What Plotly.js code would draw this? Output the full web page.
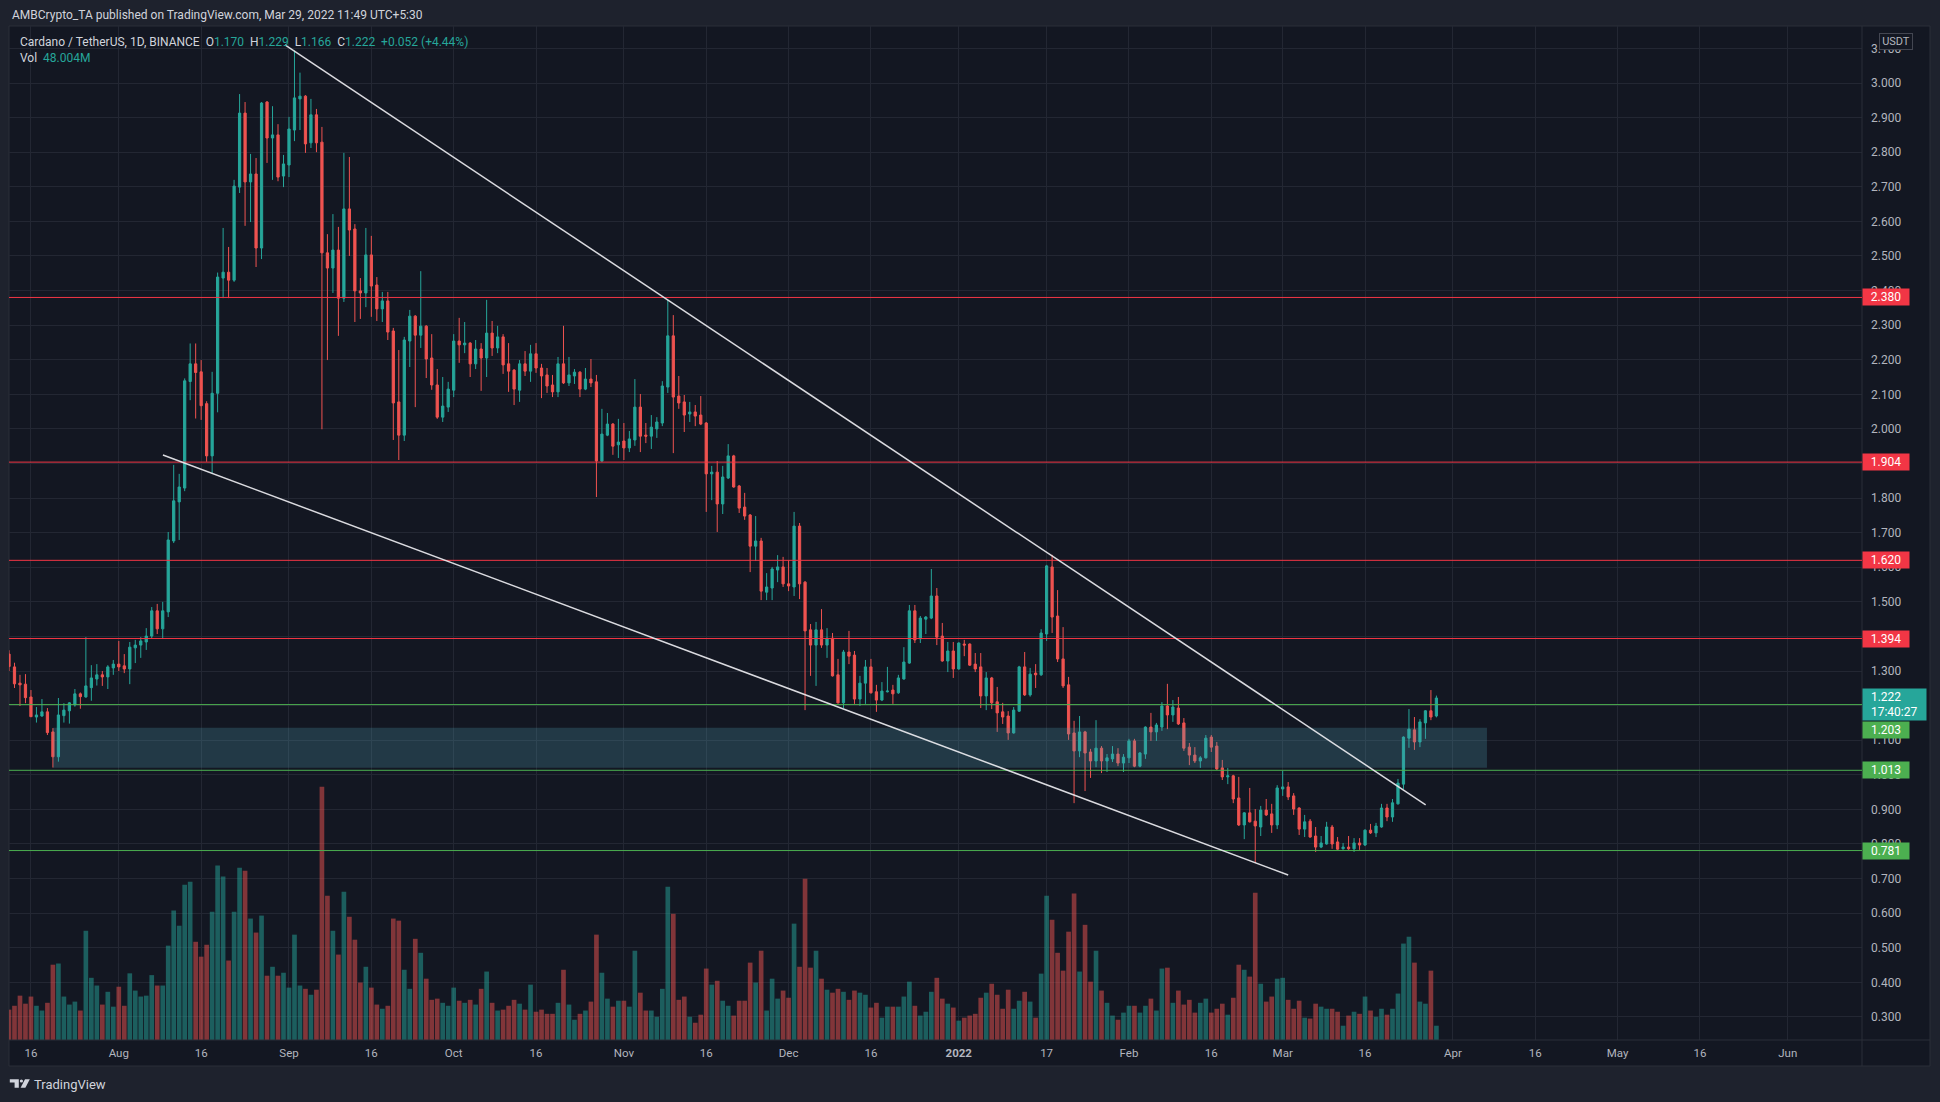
<!DOCTYPE html>
<html><head><meta charset="utf-8">
<script src="https://cdn.plot.ly/plotly-3.0.1.min.js"></script>
<style>html,body{margin:0;padding:0;background:#1e222d;overflow:hidden}#chart{width:1940px;height:1102px}</style>
</head><body><div id="chart"></div><script>
// ---------------- DATA (ADA/USDT, 1D, Binance) ----------------
const firstDay = '2021-07-12';
const openP = [
1.349,1.312,1.265,1.262,1.225,1.167,1.170,1.182,1.124,1.052,1.171,1.185,1.202,1.234,1.225,1.252,1.277,1.289,1.283,1.309,
1.320,1.315,1.306,1.367,1.375,1.384,1.401,1.474,1.422,1.471,1.676,1.789,1.829,2.137,2.188,2.165,2.073,1.922,2.103,2.436,2.453,2.430,2.699,2.913,2.714,2.737,2.523,2.945,2.841,2.850,2.731,
2.763,2.864,2.954,2.962,2.827,2.908,2.829,2.509,2.465,2.517,2.378,2.636,2.578,2.399,2.393,2.503,2.416,2.347,2.370,2.283,2.078,1.982,2.254,2.326,2.271,2.297,2.205,2.127,2.034,2.063,
2.112,2.254,2.243,2.248,2.188,2.231,2.205,2.277,2.234,2.266,2.188,2.170,2.112,2.188,2.167,2.217,2.176,2.156,2.127,2.107,2.188,2.133,2.153,2.164,2.115,2.144,2.136,1.907,1.982,2.014,1.954,
1.965,1.945,1.968,2.063,1.982,1.979,2.000,2.017,2.121,2.269,2.095,2.078,2.043,2.049,2.040,2.017,1.870,1.875,1.783,1.858,1.922,1.835,1.774,1.751,1.661,1.676,1.528,1.540,1.592,1.601,
1.552,1.543,1.719,1.557,1.419,1.375,1.419,1.375,1.395,1.289,1.208,1.355,1.346,1.219,1.265,1.312,1.240,1.216,1.240,1.245,1.237,1.277,1.323,1.474,1.393,1.450,1.453,1.517,1.401,1.329,1.358,
1.306,1.378,1.378,1.320,1.312,1.228,1.280,1.211,1.182,1.170,1.121,1.184,1.312,1.231,1.294,1.289,1.407,1.601,1.459,1.335,1.260,1.121,1.069,1.124,1.066,1.040,1.077,1.040,1.046,1.060,1.034,
1.049,1.098,1.025,1.060,1.138,1.124,1.138,1.199,1.173,1.193,1.150,1.080,1.057,1.040,1.049,1.109,1.083,1.020,0.994,0.997,0.933,0.855,0.890,0.866,0.849,0.898,0.887,0.855,
0.959,0.965,0.939,0.904,0.843,0.866,0.823,0.791,0.800,0.849,0.806,0.786,0.791,0.786,0.803,0.797,0.840,0.832,0.849,0.904,0.878,0.916,0.973,1.106,1.130,1.095,1.150,1.185,1.170];
const highP = [
1.360,1.324,1.289,1.291,1.245,1.196,1.219,1.193,1.135,1.222,1.207,1.210,1.248,1.238,1.398,1.317,1.320,1.300,1.317,1.332,
1.387,1.349,1.384,1.390,1.398,1.424,1.485,1.494,1.500,1.702,1.896,1.870,2.146,2.247,2.247,2.199,2.080,2.165,2.452,2.581,2.526,2.720,2.968,2.945,2.795,2.783,2.945,2.948,2.933,2.881,2.792,
2.902,3.094,3.030,2.965,2.954,2.925,2.873,2.563,2.621,2.584,2.798,2.786,2.592,2.436,2.581,2.558,2.439,2.396,2.396,2.292,2.228,2.266,2.344,2.329,2.456,2.300,2.274,2.173,2.150,2.136,
2.274,2.321,2.309,2.251,2.257,2.248,2.373,2.312,2.298,2.274,2.248,2.173,2.199,2.225,2.243,2.248,2.188,2.176,2.156,2.208,2.298,2.208,2.173,2.167,2.176,2.202,2.156,2.058,2.046,2.017,2.029,
2.017,1.994,2.144,2.101,2.017,2.040,2.034,2.138,2.373,2.329,2.153,2.098,2.078,2.069,2.095,2.020,1.893,1.907,1.893,1.956,1.925,1.838,1.815,1.754,1.748,1.685,1.583,1.601,1.635,1.630,
1.621,1.760,1.728,1.560,1.436,1.442,1.479,1.424,1.410,1.335,1.361,1.416,1.358,1.286,1.332,1.335,1.260,1.268,1.312,1.260,1.289,1.369,1.491,1.491,1.459,1.459,1.595,1.540,1.439,1.384,1.384,
1.383,1.390,1.380,1.352,1.352,1.297,1.283,1.254,1.208,1.184,1.196,1.315,1.355,1.309,1.320,1.421,1.607,1.636,1.534,1.427,1.283,1.156,1.170,1.127,1.075,1.158,1.083,1.060,1.083,1.077,1.060,
1.104,1.104,1.066,1.140,1.179,1.150,1.210,1.263,1.216,1.225,1.164,1.092,1.080,1.054,1.115,1.115,1.095,1.043,1.020,1.000,0.994,0.892,0.962,0.901,0.910,0.930,0.916,0.970,
1.012,0.979,0.947,0.906,0.884,0.872,0.849,0.823,0.864,0.855,0.820,0.803,0.823,0.817,0.817,0.842,0.858,0.861,0.916,0.916,0.930,0.988,1.111,1.190,1.167,1.161,1.187,1.245,1.229];
const lowP = [
1.300,1.251,1.199,1.207,1.168,1.151,1.168,1.115,1.021,1.038,1.151,1.148,1.197,1.191,1.223,1.214,1.258,1.257,1.248,1.289,
1.300,1.294,1.262,1.323,1.338,1.361,1.395,1.407,1.393,1.456,1.670,1.679,1.820,2.083,2.030,2.026,1.905,1.871,2.048,2.378,2.378,2.425,2.682,2.587,2.598,2.468,2.491,2.769,2.720,2.716,2.699,
2.728,2.832,2.864,2.798,2.812,2.800,1.999,2.199,2.393,2.269,2.367,2.500,2.309,2.318,2.352,2.324,2.312,2.309,2.257,1.968,1.910,1.965,2.179,2.063,2.234,2.147,2.113,2.029,2.020,2.049,
2.092,2.191,2.219,2.150,2.173,2.110,2.150,2.211,2.219,2.159,2.107,2.069,2.078,2.153,2.136,2.162,2.089,2.104,2.092,2.092,2.130,2.124,2.130,2.092,2.112,2.121,1.803,1.904,1.979,1.925,1.916,
1.910,1.933,1.951,1.933,1.959,1.942,1.974,2.008,2.104,1.930,2.058,1.991,2.020,2.008,2.011,1.760,1.794,1.702,1.754,1.855,1.830,1.757,1.737,1.586,1.618,1.505,1.505,1.505,1.557,1.543,
1.531,1.517,1.508,1.187,1.286,1.257,1.367,1.338,1.284,1.206,1.193,1.320,1.205,1.199,1.205,1.235,1.182,1.213,1.238,1.205,1.234,1.275,1.321,1.381,1.381,1.407,1.450,1.375,1.327,1.297,1.280,
1.304,1.343,1.315,1.297,1.193,1.187,1.190,1.124,1.147,1.101,1.119,1.182,1.228,1.226,1.251,1.286,1.387,1.410,1.326,1.251,1.101,0.918,1.051,0.953,0.991,1.022,1.005,1.008,1.037,1.025,1.008,
1.034,1.022,1.022,1.046,1.098,1.098,1.127,1.132,1.153,1.144,1.069,1.028,1.034,1.020,1.047,1.066,1.014,0.985,0.973,0.918,0.852,0.814,0.862,0.745,0.823,0.881,0.832,0.843,
0.939,0.927,0.884,0.826,0.820,0.818,0.777,0.788,0.798,0.786,0.783,0.784,0.783,0.777,0.783,0.794,0.829,0.820,0.847,0.866,0.864,0.914,0.959,1.078,1.072,1.080,1.104,1.158,1.166];
const closeP = [
1.313,1.263,1.260,1.223,1.168,1.173,1.182,1.122,1.052,1.173,1.187,1.208,1.234,1.226,1.257,1.280,1.289,1.283,1.312,1.320,
1.312,1.306,1.369,1.375,1.387,1.401,1.474,1.422,1.474,1.679,1.792,1.832,2.139,2.188,2.163,2.067,1.922,2.103,2.439,2.453,2.430,2.702,2.913,2.714,2.737,2.523,2.942,2.841,2.850,2.728,2.766,
2.867,2.957,2.962,2.824,2.908,2.827,2.509,2.465,2.517,2.378,2.636,2.575,2.399,2.393,2.503,2.413,2.347,2.370,2.280,2.075,1.982,2.257,2.326,2.271,2.297,2.202,2.127,2.034,2.066,2.115,
2.254,2.243,2.248,2.188,2.231,2.205,2.277,2.234,2.266,2.185,2.167,2.115,2.188,2.167,2.217,2.176,2.153,2.124,2.107,2.188,2.133,2.156,2.164,2.115,2.144,2.133,1.907,1.985,2.014,1.950,1.962,
1.945,1.971,2.063,1.979,1.979,2.005,2.020,2.124,2.269,2.092,2.075,2.040,2.049,2.037,2.014,1.870,1.875,1.783,1.861,1.922,1.832,1.771,1.748,1.661,1.676,1.531,1.543,1.595,1.601,1.552,
1.546,1.719,1.552,1.416,1.375,1.419,1.375,1.395,1.286,1.208,1.355,1.343,1.219,1.265,1.312,1.237,1.216,1.242,1.242,1.234,1.280,1.326,1.474,1.390,1.453,1.456,1.517,1.398,1.329,1.358,1.306,
1.381,1.375,1.317,1.306,1.228,1.280,1.208,1.179,1.167,1.121,1.187,1.312,1.231,1.291,1.289,1.410,1.604,1.456,1.335,1.257,1.118,1.069,1.124,1.063,1.040,1.077,1.040,1.049,1.060,1.034,1.051,
1.098,1.025,1.063,1.138,1.124,1.144,1.199,1.173,1.196,1.147,1.077,1.057,1.040,1.049,1.106,1.080,1.017,0.994,0.997,0.930,0.855,0.890,0.864,0.852,0.898,0.884,0.855,0.962,
0.965,0.936,0.901,0.843,0.864,0.820,0.791,0.803,0.849,0.800,0.785,0.791,0.786,0.803,0.797,0.840,0.832,0.852,0.904,0.878,0.919,0.976,1.109,1.132,1.095,1.153,1.185,1.167,1.222];
const volumeM = [
102,115,149,122,146,115,99,125,253,257,146,119,129,99,367,209,183,119,162,112,
179,115,224,166,146,149,218,183,183,317,435,384,522,532,330,280,320,431,586,549,267,431,579,569,408,361,418,216,246,216,226,
176,354,183,172,152,169,851,485,367,287,498,414,337,193,246,176,119,105,115,408,401,236,172,340,293,206,135,139,125,115,
176,132,125,135,119,172,230,125,99,102,115,135,122,102,186,95,102,88,88,125,236,119,68,88,99,129,354,226,139,112,132,
132,112,300,159,99,99,78,172,515,424,135,146,78,58,85,240,186,199,132,115,82,132,132,260,193,300,99,206,139,166,
142,391,246,542,243,300,206,169,159,172,162,135,166,159,152,109,125,75,112,112,112,146,196,115,82,95,162,209,139,122,109,
65,75,82,88,142,159,189,152,105,169,105,132,162,129,75,223,485,404,293,233,364,492,230,387,196,300,166,125,82,68,92,
115,115,92,115,139,99,240,243,125,166,119,135,92,125,139,92,105,122,85,142,253,236,213,495,189,129,146,206,
209,135,105,132,75,72,122,112,105,105,95,48,82,95,88,146,99,78,105,85,105,156,324,347,260,129,122,233,48.004];

const redLevels = [2.380, 1.904, 1.620, 1.394];
const greenLevels = [1.203, 1.013, 0.781];
const lastPrice = 1.222;
const lastCountdown = '17:40:27';
const zoneBox = {x0:'2021-07-20 00:00', x1:'2022-04-07 05:00', y0:1.0205, y1:1.136};
const upperTrend = {x:['2021-08-31 06:30','2022-03-27 01:00'], y:[3.110, 0.913]};
const lowerTrend = {x:['2021-08-09 01:00','2022-03-02 00:00'], y:[1.9245, 0.7103]};
const tickDates = ['2021-07-16','2021-08-01','2021-08-16','2021-09-01','2021-09-16','2021-10-01','2021-10-16','2021-11-01','2021-11-16','2021-12-01','2021-12-16','2022-01-01','2022-01-17','2022-02-01','2022-02-16','2022-03-01','2022-03-16','2022-04-01','2022-04-16','2022-05-01','2022-05-16','2022-06-01'];
const tickText = ['16','Aug','16','Sep','16','Oct','16','Nov','16','Dec','16','<b>2022</b>','17','Feb','16','Mar','16','Apr','16','May','16','Jun'];
const headerText = 'AMBCrypto_TA published on TradingView.com, Mar 29, 2022 11:49 UTC+5:30';
const symbolText = 'Cardano / TetherUS, 1D, BINANCE';
const volText = '48.004M';

// ---------------- build ----------------
const dates = [];
{ const d0 = new Date(firstDay + 'T00:00:00Z');
  for (let i = 0; i < openP.length; i++) { const d = new Date(d0.getTime() + i*86400000); dates.push(d.toISOString().slice(0,10)); } }
const UP = '#26a69a', DN = '#ef5350';
const volColors = openP.map((o,i) => closeP[i] >= o ? 'rgba(38,166,154,0.5)' : 'rgba(239,83,80,0.5)');
const FONT = 'Roboto, "DejaVu Sans", sans-serif';
const GRID = '#232733';
const PX = x => (x - 9) / 1853;
const PY = y => (1040 - y) / 1014;

const traces = [
  {type:'bar', x:dates, y:volumeM, xaxis:'x', yaxis:'y', marker:{color:volColors, line:{width:0}}, hoverinfo:'skip', showlegend:false},
  {type:'candlestick', x:dates, open:openP, high:highP, low:lowP, close:closeP, xaxis:'x', yaxis:'y2',
   increasing:{line:{color:UP, width:1}, fillcolor:UP}, decreasing:{line:{color:DN, width:1}, fillcolor:DN},
   whiskerwidth:0, hoverinfo:'skip', showlegend:false}
];

const shapes = [
  {type:'rect', xref:'paper', yref:'paper', x0:PX(9), x1:PX(1930), y0:PY(1066), y1:PY(26), fillcolor:'#131722', line:{color:'#2a2e39', width:1}, layer:'below'},
  {type:'line', xref:'paper', yref:'paper', x0:PX(1862), x1:PX(1862), y0:PY(1066), y1:PY(26), line:{color:'#2a2e39', width:1}, layer:'above'},
  {type:'line', xref:'paper', yref:'paper', x0:PX(9), x1:PX(1930), y0:PY(1040), y1:PY(1040), line:{color:'#2a2e39', width:1}, layer:'above'}
];
redLevels.forEach(l => shapes.push({type:'line', xref:'paper', yref:'y2', x0:0, x1:1, y0:l, y1:l, line:{color:'#f23645', width:1}, layer:'above'}));
greenLevels.forEach(l => shapes.push({type:'line', xref:'paper', yref:'y2', x0:0, x1:1, y0:l, y1:l, line:{color:'#4caf50', width:1}, layer:'above'}));
shapes.push({type:'rect', xref:'x', yref:'y2', x0:zoneBox.x0, x1:zoneBox.x1, y0:zoneBox.y0, y1:zoneBox.y1, fillcolor:'rgba(80,160,180,0.25)', line:{width:0}, layer:'above'});
[upperTrend, lowerTrend].forEach(t => shapes.push({type:'line', xref:'x', yref:'y2', x0:t.x[0], y0:t.y[0], x1:t.x[1], y1:t.y[1], line:{color:'rgba(235,235,240,0.92)', width:1.5}, layer:'above'}));
// TradingView logo mark
const pth = pts => 'M' + pts.map(p => PX(p[0]) + ',' + PY(p[1])).join(' L') + ' Z';
shapes.push({type:'path', xref:'paper', yref:'paper', path:pth([[9.8,1079.3],[18.8,1079.3],[18.8,1087.7],[14.6,1087.7],[14.6,1082.6],[9.8,1082.6]]), fillcolor:'#d1d4dc', line:{width:0}});
shapes.push({type:'circle', xref:'paper', yref:'paper', x0:PX(19.8), x1:PX(23.0), y0:PY(1082.6), y1:PY(1079.4), fillcolor:'#d1d4dc', line:{width:0}});
shapes.push({type:'path', xref:'paper', yref:'paper', path:pth([[25.0,1079.3],[29.8,1079.3],[25.4,1087.7],[20.6,1087.7]]), fillcolor:'#d1d4dc', line:{width:0}});

const tl = '#d1d4dc';
const sp = '&nbsp;&nbsp;';
const last = openP.length - 1;
const chg = closeP[last] - openP[last];
const legendText = `<span style="color:${tl}">${symbolText}</span>${sp}O<span style="color:${UP}">${openP[last].toFixed(3)}</span>${sp}H<span style="color:${UP}">${highP[last].toFixed(3)}</span>${sp}L<span style="color:${UP}">${lowP[last].toFixed(3)}</span>${sp}C<span style="color:${UP}">${closeP[last].toFixed(3)}</span>${sp}<span style="color:${UP}">+${chg.toFixed(3)} (+${(chg/openP[last]*100).toFixed(2)}%)</span>`;

const annotations = [
  {xref:'paper', yref:'paper', x:PX(10), y:PY(15), xanchor:'left', yanchor:'middle', showarrow:false, text:headerText, font:{family:FONT, size:12, color:tl}},
  {xref:'paper', yref:'paper', x:PX(18), y:PY(42.3), xanchor:'left', yanchor:'middle', showarrow:false, text:legendText, font:{family:FONT, size:12, color:tl}},
  {xref:'paper', yref:'paper', x:PX(18), y:PY(58), xanchor:'left', yanchor:'middle', showarrow:false, text:`Vol${sp}<span style="color:${UP}">${volText}</span>`, font:{family:FONT, size:12, color:tl}},
  {xref:'paper', yref:'paper', x:PX(32), y:PY(1084), xanchor:'left', yanchor:'middle', showarrow:false, text:'TradingView', font:{family:FONT, size:13, color:tl}},
  {xref:'paper', yref:'paper', x:PX(1896), y:PY(41.8), xanchor:'center', yanchor:'middle', showarrow:false, text:'USDT', font:{family:FONT, size:11, color:'#b2b5be'}, bgcolor:'#131722', bordercolor:'#434651', borderwidth:1, borderpad:2, width:28, height:11}
];
redLevels.forEach(l => annotations.push({xref:'paper', yref:'y2', x:1, y:l, xanchor:'left', yanchor:'middle', showarrow:false, text:l.toFixed(3), font:{family:FONT, size:12, color:'#ffffff'}, bgcolor:'#f23645', width:42, height:12, borderpad:2}));
greenLevels.forEach(l => {
  const yy = (l === 1.203) ? {yref:'paper', y:PY(730)} : {yref:'y2', y:l};
  annotations.push(Object.assign({xref:'paper', x:1, xanchor:'left', yanchor:'middle', showarrow:false, text:l.toFixed(3), font:{family:FONT, size:12, color:'#ffffff'}, bgcolor:'#4caf50', width:42, height:12, borderpad:2}, yy));
});
annotations.push({xref:'paper', yref:'paper', x:1, y:PY(704.5), xanchor:'left', yanchor:'middle', showarrow:false, align:'left', text:`${sp}${lastPrice.toFixed(3)}<br>${sp}${lastCountdown}`, font:{family:FONT, size:12, color:'#ffffff'}, bgcolor:UP, width:59, height:27, borderpad:2});

const layout = {
  width:1940, height:1102,
  margin:{l:9, r:78, t:26, b:62, pad:0},
  paper_bgcolor:'#1e222d', plot_bgcolor:'#131722',
  showlegend:false, bargap:0.15, boxgap:0.42,
  font:{family:FONT, color:'#b2b5be', size:12},
  xaxis:{type:'date', range:['2021-07-12 00:00','2022-06-14 12:29'], autorange:false, rangeslider:{visible:false},
    tickmode:'array', tickvals:tickDates, ticktext:tickText, showgrid:true, gridcolor:GRID, gridwidth:1,
    zeroline:false, showline:false, ticks:'', tickfont:{family:FONT, size:11.5, color:'#b2b5be'}, ticklabelstandoff:4, fixedrange:true},
  yaxis:{range:[0, 3407], autorange:false, visible:false, showgrid:false, zeroline:false, fixedrange:true},
  yaxis2:{overlaying:'y', side:'right', range:[0.2333, 3.1648], autorange:false, tick0:0, dtick:0.1, tickformat:'.3f',
    showgrid:true, gridcolor:GRID, gridwidth:1, zeroline:false, showline:false, ticks:'', tickfont:{family:FONT, size:12, color:'#b2b5be'},
    ticklabelstandoff:8, fixedrange:true},
  shapes:shapes, annotations:annotations
};
Plotly.newPlot('chart', traces, layout, {displayModeBar:false, staticPlot:true});
</script></body></html>
